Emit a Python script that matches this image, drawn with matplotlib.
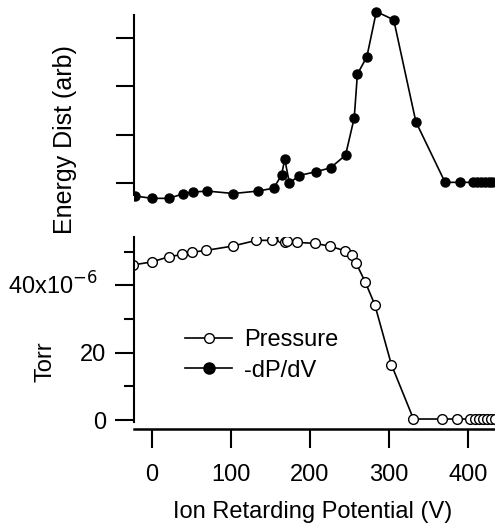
#%% Import libraries

import matplotlib
matplotlib.use("Agg")
import matplotlib.pyplot as plt

plt.rcParams['font.family'] = ['Liberation Sans', 'DejaVu Sans']

#%% Data

# Pressure (Torr, in units of 1e-6) vs retarding potential (V)
p_volts = [-24, 0, 21, 38, 51, 68, 102, 132, 152, 164, 168, 171, 184, 206, 225,
           244, 253, 258, 270, 282, 303, 331, 367, 386, 402, 409, 414, 419,
           424, 429, 434]
p_torr = [46.1, 47.0, 48.5, 49.2, 49.9, 50.4, 51.7, 53.4, 53.4, 54.0, 52.9,
          53.2, 52.8, 52.5, 51.7, 50.3, 49.1, 46.8, 41.0, 34.3, 16.5, 0.3,
          0.3, 0.3, 0.3, 0.3, 0.3, 0.3, 0.3, 0.3, 0.3]

# Energy distribution (-dP/dV, arbitrary units)
e_volts = [-22, 0, 21, 39, 52, 70, 103, 134, 154, 164, 168, 174, 186, 208, 226,
           245, 256, 260, 272, 284, 306, 334, 371, 390, 406, 411, 416, 421,
           426, 431, 436]
e_dist = [-0.26, -0.31, -0.31, -0.22, -0.18, -0.16, -0.21, -0.16, -0.10, 0.17,
          0.50, 0.0, 0.16, 0.24, 0.32, 0.58, 1.35, 2.25, 2.61, 3.54, 3.37,
          1.27, 0.02, 0.02, 0.02, 0.02, 0.02, 0.02, 0.02, 0.02, 0.02]

x_ticks = [0, 100, 200, 300, 400]
torr_ticks = [0, 20, 40]
torr_minor = [10, 30, 50]
torr_labels = ['0', '20', '']
energy_ticks = [0, 1, 2, 3]

#%% Figure

W, H = 495, 523
fig = plt.figure(figsize=(W / 100, H / 100), dpi=100)

def box(x0, y0, x1, y1):
    # pixel box (top-left origin) -> figure fraction
    return [x0 / W, 1 - y1 / H, (x1 - x0) / W, (y1 - y0) / H]

xlim = (-22.8, 434.2)
lw = 1.2
fs = 17

# Bottom panel: pressure
ax = fig.add_axes(box(134, 237, 495, 429))
ax.plot(p_volts, p_torr, '-', color='black', lw=lw, marker='o', ms=7,
        mfc='white', mec='black', mew=1.0, label='Pressure')
ax.plot([], [], '-', color='black', lw=lw, marker='o', ms=8, mfc='black',
        mec='black', label='-dP/dV')
ax.set_xlim(xlim)
ax.set_ylim(-2.67, 54.4)
for s in ['top', 'right']:
    ax.spines[s].set_visible(False)
ax.spines['left'].set_bounds(-0.5, 54.4)
ax.spines['left'].set_linewidth(1.5)
ax.spines['bottom'].set_linewidth(1.8)
ax.set_xticks(x_ticks)
ax.set_yticks(torr_ticks)
ax.set_yticklabels(torr_labels)
ax.set_yticks(torr_minor, minor=True)
ax.tick_params(axis='x', direction='out', length=14, width=1.5, pad=11,
               labelsize=fs)
ax.tick_params(axis='y', which='major', direction='out', length=14, width=1.5,
               pad=6, labelsize=fs)
ax.tick_params(axis='y', which='minor', direction='out', length=7, width=1.5)
ax.text(98 / W, 1 - 295 / H, '40x10$^{-6}$', transform=fig.transFigure,
        ha='right', va='baseline', fontsize=fs)
ax.legend(loc='upper left', bbox_to_anchor=(185 / W, 1 - 329 / H),
          bbox_transform=fig.transFigure, frameon=False, fontsize=fs,
          handlelength=2.0, handletextpad=0.5, labelspacing=0.37,
          borderpad=0, borderaxespad=0)

# Top panel: energy distribution
ax2 = fig.add_axes(box(134, 5, 495, 205))
ax2.plot(e_volts, e_dist, '-', color='black', lw=lw, marker='o', ms=6.5,
         mfc='black', mec='black')
ax2.set_xlim(xlim)
ax2.set_ylim(-0.447, 3.676)
for s in ['top', 'right', 'bottom']:
    ax2.spines[s].set_visible(False)
ax2.spines['left'].set_bounds(-0.25, 3.47)
ax2.spines['left'].set_linewidth(1.5)
ax2.set_xticks([])
ax2.set_yticks(energy_ticks)
ax2.set_yticklabels([])
ax2.tick_params(axis='y', direction='out', length=13, width=1.5)

# Axis titles
fig.text(65 / W, 1 - 140 / H, 'Energy Dist (arb)', rotation=90, ha='center',
         va='center', fontsize=18)
fig.text(45 / W, 1 - 362 / H, 'Torr', rotation=90, ha='center', va='center',
         fontsize=fs)
fig.text(313 / W, 1 - 518 / H, 'Ion Retarding Potential (V)', ha='center',
         va='baseline', fontsize=fs)

fig.savefig('out.png', dpi=100)
plt.close()
